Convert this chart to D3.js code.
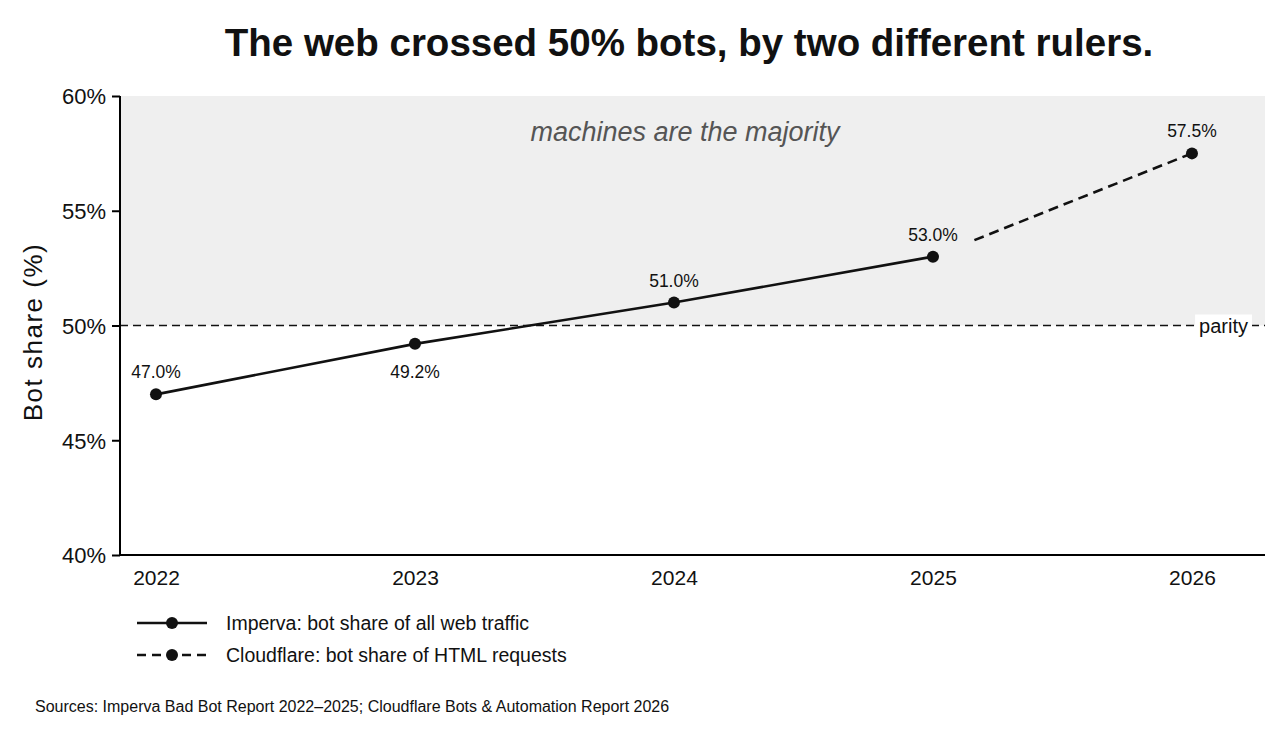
<!DOCTYPE html>
<html>
<head>
<meta charset="utf-8">
<script src="https://cdn.jsdelivr.net/npm/d3@7"></script>
<style>
  body { margin: 0; background: #fff; }
  text { font-family: "Liberation Sans", Arial, sans-serif; fill: #111; }
</style>
</head>
<body>
<div id="chart"></div>
<script>
// data
const impervaYears = [2022, 2023, 2024, 2025];
const impervaValues = [47.0, 49.2, 51.0, 53.0];
const cloudflareYears = [2025, 2026];          // connector starts at the 2025 Imperva point
const cloudflareValues = [53.0, 57.5];
const yTicks = [40, 45, 50, 55, 60];
const xTicks = [2022, 2023, 2024, 2025, 2026];
const legendLabels = ["Imperva: bot share of all web traffic", "Cloudflare: bot share of HTML requests"];

const W = 1280, H = 737;
const margin = { top: 96, right: 15, bottom: 182, left: 120 },
      width = W - margin.left - margin.right,
      height = H - margin.top - margin.bottom;

const svg = d3.select("#chart").append("svg")
    .attr("width", W)
    .attr("height", H);

const g = svg.append("g")
    .attr("transform", `translate(${margin.left},${margin.top})`);

const x = d3.scaleLinear().domain([2021.861, 2026.282]).range([0, width]);
const y = d3.scaleLinear().domain([40, 60]).range([height, 0]);

// majority band
g.append("rect")
    .attr("x", 0).attr("y", y(60))
    .attr("width", width).attr("height", y(50) - y(60))
    .attr("fill", "#efefef");

g.append("text")
    .attr("x", 565).attr("y", y(58.6) + 13)
    .attr("text-anchor", "middle")
    .style("font-style", "italic")
    .style("font-size", "27px")
    .style("fill", "#555")
    .text("machines are the majority");

// parity line
g.append("line")
    .attr("x1", 0).attr("x2", width)
    .attr("y1", y(50)).attr("y2", y(50))
    .attr("stroke", "#111").attr("stroke-width", 1.6)
    .attr("stroke-dasharray", "8,5");

const parity = g.append("text")
    .attr("x", width - 17).attr("y", y(50) + 7)
    .attr("text-anchor", "end")
    .style("font-size", "20px")
    .text("parity");
const pb = parity.node().getBBox();
g.insert("rect", () => parity.node())
    .attr("x", pb.x - 4).attr("y", pb.y)
    .attr("width", pb.width + 8).attr("height", pb.height)
    .attr("fill", "#fff");

// axes
const yAxis = g.append("g")
    .call(d3.axisLeft(y).tickValues(yTicks).tickFormat(d => d + "%").tickSize(8).tickPadding(6));
yAxis.select(".domain").attr("stroke-width", 2).attr("d", `M0,${height}V0`);
yAxis.selectAll(".tick line").attr("stroke-width", 2);
yAxis.selectAll("text").style("font-size", "22px").attr("dy", "0.36em");

const xAxis = g.append("g")
    .attr("transform", `translate(0,${height})`)
    .call(d3.axisBottom(x).tickValues(xTicks).tickFormat(d3.format("d")).tickSize(0).tickPadding(15));
xAxis.select(".domain").attr("stroke-width", 2).attr("d", `M0,0H${width}`);
xAxis.selectAll("text").style("font-size", "21px");

// y axis title
svg.append("text")
    .attr("transform", "rotate(-90)")
    .attr("x", -332)
    .attr("y", 42)
    .attr("text-anchor", "middle")
    .style("font-size", "26px")
    .style("letter-spacing", "1.5px")
    .text("Bot share (%)");

// Imperva line
const imperva = impervaYears.map((d, i) => ({ year: d, value: impervaValues[i] }));
const line = d3.line().x(d => x(d.year)).y(d => y(d.value));

g.append("path")
    .datum(imperva)
    .attr("d", line)
    .attr("fill", "none")
    .attr("stroke", "#111")
    .attr("stroke-width", 2.6);

// Cloudflare dashed connector, with a gap after the 2025 point
const cloud = cloudflareYears.map((d, i) => ({ year: d, value: cloudflareValues[i] }));
const cPath = g.append("path")
    .datum(cloud)
    .attr("d", line)
    .attr("fill", "none")
    .attr("stroke", "#111")
    .attr("stroke-width", 2.6);
const total = cPath.node().getTotalLength();
const gap = total * 0.16;
const dashes = [0, gap];
for (let s = gap; s < total + 20; s += 16) dashes.push(10, 6);
cPath.attr("stroke-dasharray", dashes.join(","));

// points
const pts = imperva.concat([cloud[1]]);
g.selectAll(".point")
    .data(pts)
    .enter().append("circle")
    .attr("class", "point")
    .attr("cx", d => x(d.year))
    .attr("cy", d => y(d.value))
    .attr("r", 6)
    .attr("fill", "#111");

// value labels (2023 sits below its point)
g.selectAll(".vlabel")
    .data(pts)
    .enter().append("text")
    .attr("class", "vlabel")
    .attr("x", d => x(d.year))
    .attr("y", d => d.year === 2023 ? y(d.value) + 34 : y(d.value) - 16)
    .attr("text-anchor", "middle")
    .style("font-size", "17.5px")
    .text(d => d.value.toFixed(1) + "%");

// title
svg.append("text")
    .attr("x", 689).attr("y", 56)
    .attr("text-anchor", "middle")
    .style("font-size", "38.5px")
    .style("font-weight", "bold")
    .text("The web crossed 50% bots, by two different rulers.");

// legend
const legend = svg.append("g").attr("transform", "translate(137,623)");
legendLabels.forEach((label, i) => {
    const row = legend.append("g").attr("transform", `translate(0,${i * 32})`);
    row.append("line")
        .attr("x1", 0).attr("x2", 70)
        .attr("stroke", "#111").attr("stroke-width", 2.6)
        .attr("stroke-dasharray", i === 1 ? "9,6" : null);
    row.append("circle").attr("cx", 35).attr("r", 6).attr("fill", "#111");
    row.append("text")
        .attr("x", 89).attr("y", 7)
        .style("font-size", "19.5px")
        .text(label);
});

// sources
svg.append("text")
    .attr("x", 35).attr("y", 712)
    .style("font-size", "16px")
    .text("Sources: Imperva Bad Bot Report 2022\u20132025; Cloudflare Bots & Automation Report 2026");
</script>
</body>
</html>
